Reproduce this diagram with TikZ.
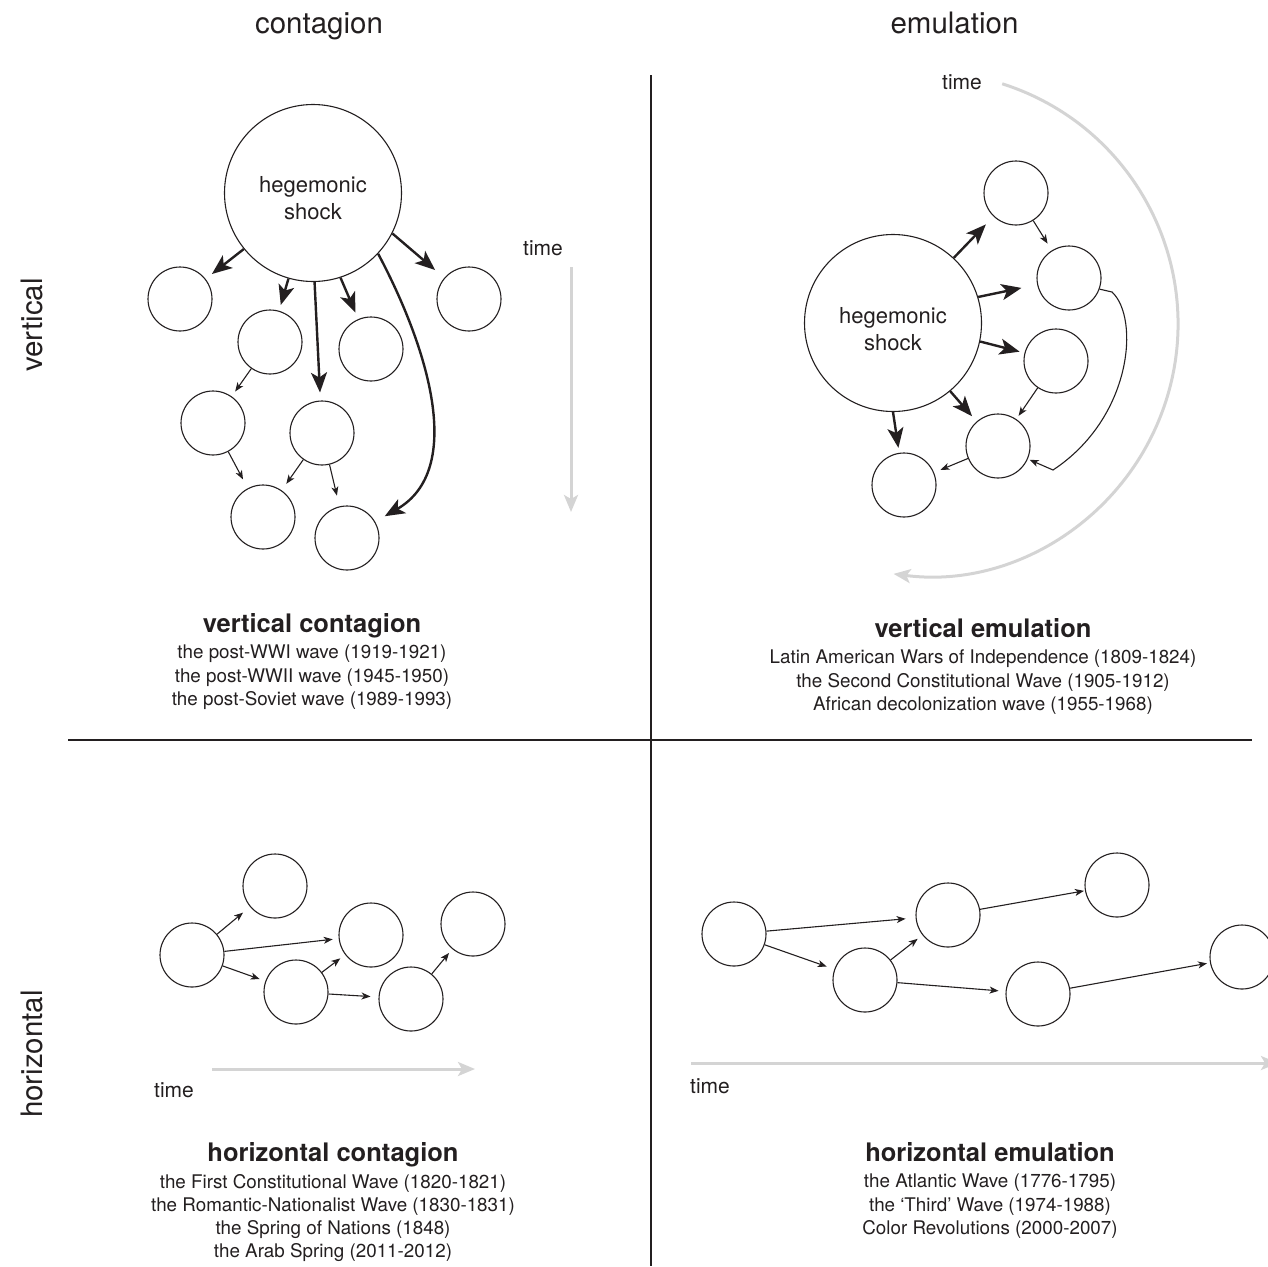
\documentclass[tikz,border=0pt]{standalone}
\usepackage{fontspec}
\setmainfont{TeX Gyre Heros}
\usetikzlibrary{arrows.meta, positioning}

\definecolor{ink}{RGB}{35,31,32}
\definecolor{timegray}{RGB}{212,212,212}

\begin{document}
\begin{tikzpicture}[
    x=1pt, y=1pt,
    every node/.style={text=ink},
    state/.style={circle, draw=ink, line width=1.1pt, minimum size=64pt, inner sep=0pt},
    shockstate/.style={circle, draw=ink, line width=1.1pt, minimum size=177pt, inner sep=0pt},
    shocktext/.style={align=center, inner sep=0pt, font=\fontsize{22}{27}\selectfont},
    thickarrow/.style={-{Stealth[length=20pt, width=16pt, inset=5pt]}, line width=2.4pt, draw=ink},
    thinarrow/.style={-{Stealth[length=9pt, width=7pt, inset=2.5pt]}, line width=1.1pt, draw=ink},
    timearrow/.style={-{Stealth[length=17pt, width=14pt, inset=4pt]}, line width=3pt, draw=timegray},
    header/.style={font=\fontsize{29.5}{34}\selectfont, anchor=base, inner sep=0pt},
    timelabel/.style={font=\fontsize{21}{24}\selectfont, anchor=base, inner sep=0pt},
    casetitle/.style={font=\fontsize{25.5}{30}\selectfont\bfseries, anchor=base, inner sep=0pt},
    cases/.style={font=\fontsize{18.8}{23.2}\selectfont, align=center, inner sep=0pt}
]
\path[use as bounding box, clip] (0,0) rectangle (1268,-1266);

% Quadrant dividers
\draw[ink, line width=1.2pt] (651,-75) -- (651,-1266);
\draw[ink, line width=1.2pt] (68,-740) -- (1252,-740);

% Headers
\node[header] (hcont) at (319,-33) {contagion};
\node[header] (hemul) at (954.5,-33) {emulation};
\node[header, rotate=90] (hvert) at (42,-325) {vertical};
\node[header, rotate=90] (hhoriz) at (42,-1054) {horizontal};

% Vertical contagion
\node[shockstate] (vcshock) at (313,-193) {};
\node[shocktext] (vcshocktext) at ([yshift=-5pt]vcshock.center) {hegemonic\\shock};
\node[state] (vc1) at (180,-299) {};
\node[state] (vc2) at (270,-342) {};
\node[state] (vc3) at (371,-349) {};
\node[state] (vc4) at (469,-299) {};
\node[state] (vc5) at (213,-423) {};
\node[state] (vc6) at (322,-433) {};
\node[state] (vc7) at (263,-517) {};
\node[state] (vc8) at (347,-538) {};

\draw[thickarrow, shorten >=8pt] (vcshock.-141) -- (vc1);
\draw[thickarrow, shorten >=6pt] (vcshock.-106) -- (vc2);
\draw[thickarrow, shorten >=7pt] (vcshock.-72) -- (vc3);
\draw[thickarrow, shorten >=12pt] (vcshock.-27) -- (vc4);
\draw[thickarrow, shorten >=8pt] (vcshock.-89) -- (vc6);
\draw[thickarrow, shorten >=11pt] (vcshock.-43) to[out=-62, in=30] (vc8);

\draw[thinarrow, shorten >=6pt] (vc2) -- (vc5);
\draw[thinarrow, shorten >=10pt] (vc5) -- (vc7);
\draw[thinarrow, shorten >=8pt] (vc6) -- (vc7);
\draw[thinarrow, shorten >=11pt] (vc6) -- (vc8);

\node[timelabel] (vctime) at (543,-255) {time};
\coordinate (vctimeA) at (571,-267);
\coordinate (vctimeB) at (571,-512);
\draw[timearrow] (vctimeA) -- (vctimeB);

\node[casetitle] (vctitle) at (312,-632) {vertical contagion};
\node[cases, below=13pt of vctitle.base] (vccases) {the post-WWI wave (1919-1921)\\the post-WWII wave (1945-1950)\\the post-Soviet wave (1989-1993)};

% Vertical emulation
\node[shockstate] (veshock) at (893,-323) {};
\node[shocktext] (veshocktext) at ([yshift=-6pt]veshock.center) {hegemonic\\shock};
\node[state] (ve1) at (1016,-193) {};
\node[state] (ve2) at (1069,-278) {};
\node[state] (ve3) at (1056,-361) {};
\node[state] (ve4) at (998,-446) {};
\node[state] (ve5) at (904,-485) {};

\draw[thickarrow, shorten >=11pt] (veshock.47) -- (ve1);
\draw[thickarrow, shorten >=16pt] (veshock.17) -- (ve2);
\draw[thickarrow, shorten >=5pt] (veshock.-12) -- (ve3);
\draw[thickarrow, shorten >=7pt] (veshock.-50) -- (ve4);
\draw[thickarrow, shorten >=5pt] (veshock.-90) -- (ve5);

\draw[thinarrow, shorten >=8pt] (ve1) -- (ve2);
\draw[thinarrow, shorten >=4pt] (ve3) -- (ve4);
\draw[thinarrow, shorten >=7pt] (ve4) -- (ve5);
\coordinate (vebendA) at (1112,-292);
\coordinate (vebendB) at (1053,-470);
\draw[thinarrow, shorten >=2pt] (ve2.-20) -- (vebendA) .. controls (1140,-318) and (1132,-418) .. (vebendB) -- (ve4);

\node[timelabel] (vetime) at (962,-89) {time};
\coordinate (vetimeA) at (1002.2,-83.8);
\draw[timearrow] (vetimeA) arc[start angle=72.4, end angle=-97.4, radius=252];

\node[casetitle] (vetitle) at (983,-637) {vertical emulation};
\node[cases, below=13pt of vetitle.base] (vecases) {Latin American Wars of Independence (1809-1824)\\the Second Constitutional Wave (1905-1912)\\African decolonization wave (1955-1968)};

% Horizontal contagion
\node[state] (hc1) at (192,-955) {};
\node[state] (hc2) at (275,-886) {};
\node[state] (hc3) at (371,-935) {};
\node[state] (hc4) at (473,-924) {};
\node[state] (hc5) at (296,-992) {};
\node[state] (hc6) at (411,-999) {};

\draw[thinarrow, shorten >=9pt] (hc1) -- (hc2);
\draw[thinarrow, shorten >=6pt] (hc1) -- (hc3);
\draw[thinarrow, shorten >=6pt] (hc1) -- (hc5);
\draw[thinarrow, shorten >=6pt] (hc5) -- (hc3);
\draw[thinarrow, shorten >=8pt] (hc5) -- (hc6);
\draw[thinarrow, shorten >=5pt] (hc6) -- (hc4);

\node[timelabel] (hctime) at (174,-1097) {time};
\coordinate (hctimeA) at (212,-1069);
\coordinate (hctimeB) at (475,-1069);
\draw[timearrow] (hctimeA) -- (hctimeB);

\node[casetitle] (hctitle) at (333,-1161) {horizontal contagion};
\node[cases, below=13pt of hctitle.base] (hccases) {the First Constitutional Wave (1820-1821)\\the Romantic-Nationalist Wave (1830-1831)\\the Spring of Nations (1848)\\the Arab Spring (2011-2012)};

% Horizontal emulation
\node[state] (he1) at (734,-934) {};
\node[state] (he2) at (865,-980) {};
\node[state] (he3) at (948,-915) {};
\node[state] (he4) at (1117,-885) {};
\node[state] (he5) at (1038,-994) {};
\node[state] (he6) at (1242,-957) {};

\draw[thinarrow, shorten >=10pt] (he1) -- (he3);
\draw[thinarrow, shorten >=8pt] (he1) -- (he2);
\draw[thinarrow, shorten >=6pt] (he2) -- (he3);
\draw[thinarrow, shorten >=7pt] (he2) -- (he5);
\draw[thinarrow, shorten >=1pt] (he3) -- (he4);
\draw[thinarrow, shorten >=3pt] (he5) -- (he6);

\node[timelabel] (hetime) at (710,-1093) {time};
\coordinate (hetimeA) at (691,-1063);
\coordinate (hetimeB) at (1278,-1063);
\draw[timearrow] (hetimeA) -- (hetimeB);

\node[casetitle] (hetitle) at (990,-1161) {horizontal emulation};
\node[cases, below=13pt of hetitle.base] (hecases) {the Atlantic Wave (1776-1795)\\the ‘Third’ Wave (1974-1988)\\Color Revolutions (2000-2007)};

\end{tikzpicture}
\end{document}
